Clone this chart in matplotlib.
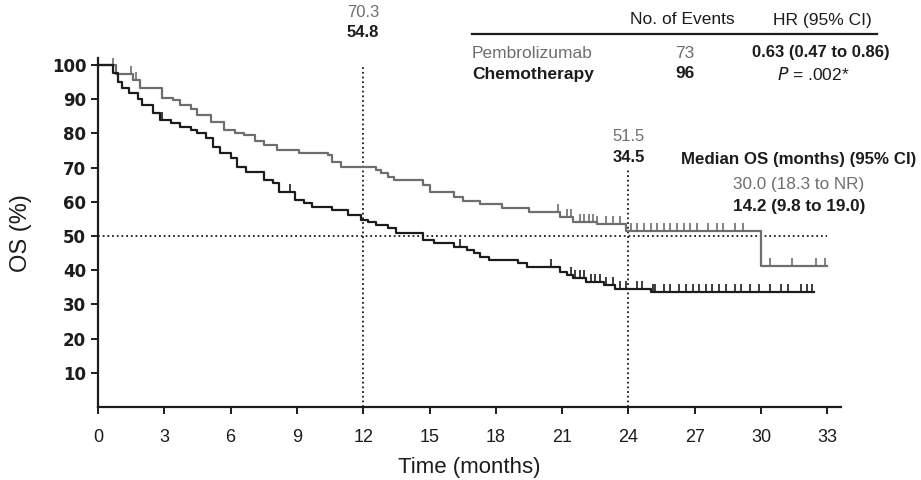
import numpy as np
import matplotlib
matplotlib.use("Agg")
import matplotlib.pyplot as plt

plt.rcParams["font.family"] = ["Liberation Sans", "DejaVu Sans"]

# Kaplan-Meier step data (months, OS %)
pembro_t = [0, 0.8, 1.6, 1.9, 2.9, 3.4, 3.7, 4.2, 4.5, 5.1, 5.7, 6.2, 6.6, 7.1, 7.5, 8.1,
            9.1, 10.4, 10.6, 11.0, 12.6, 12.8, 13.1, 13.4, 14.7, 15.0, 16.1, 16.5, 17.3,
            18.3, 19.5, 20.9, 21.5, 22.6, 23.9, 30.0]
pembro_s = [100, 97.5, 95.6, 93.3, 90.5, 89.8, 88.3, 87.0, 85.4, 83.3, 81.0, 80.2, 79.5,
            77.8, 76.6, 75.1, 74.3, 73.7, 71.6, 70.3, 69.2, 68.4, 67.3, 66.4, 64.9, 62.8,
            61.4, 60.2, 59.3, 58.2, 56.9, 55.6, 54.1, 53.5, 51.5, 41.3]
pembro_end = 33.0
pembro_cens = [0.7, 1.5, 1.7, 20.8, 21.2, 21.4, 21.8, 22.0, 22.2, 22.4, 22.6, 23.0, 23.3,
               23.6, 24.1, 24.4, 24.7, 25.0, 25.3, 25.6, 25.9, 26.2, 26.5, 26.8, 27.1,
               27.6, 28.0, 28.3, 28.8, 29.2, 30.4, 31.4, 32.5, 32.9]

chemo_t = [0, 0.7, 0.9, 1.1, 1.4, 1.8, 2.0, 2.5, 2.8, 3.3, 3.7, 4.2, 4.5, 4.9, 5.2, 5.5,
           6.0, 6.3, 6.7, 7.5, 7.9, 8.2, 8.9, 9.3, 9.7, 10.6, 11.3, 11.9, 12.2, 12.6, 13.1,
           13.5, 14.7, 15.2, 16.1, 16.7, 17.0, 17.3, 17.7, 19.0, 19.4, 20.9, 21.2, 21.5,
           22.1, 22.9, 23.4, 25.0]
chemo_s = [100, 97.7, 95.0, 93.3, 91.8, 90.0, 88.3, 86.0, 83.9, 83.0, 81.9, 81.0, 80.1,
           78.6, 76.0, 74.3, 72.8, 70.2, 68.7, 66.4, 65.5, 63.0, 60.5, 59.6, 58.5, 57.6,
           56.1, 54.8, 54.1, 53.2, 52.3, 50.9, 48.8, 48.0, 46.8, 45.9, 45.0, 43.9, 43.0,
           42.1, 40.9, 39.5, 38.6, 37.7, 36.5, 35.7, 34.5, 33.5]
chemo_end = 32.4
chemo_cens = [2.9, 8.7, 16.4, 20.5, 21.4, 21.6, 21.8, 22.0, 22.3, 22.5, 22.7, 23.0, 23.3,
              23.6, 23.9, 24.4, 24.6, 25.1, 25.2, 25.6, 25.9, 26.3, 26.6, 26.9, 27.2,
              27.5, 27.8, 28.1, 28.4, 28.8, 29.1, 29.5, 29.9, 30.4, 30.9, 31.2, 31.8,
              32.1, 32.3]

x_ticks = list(range(0, 34, 3))
y_ticks = list(range(10, 101, 10))

GRAY = "#6e6e6e"
BLACK = "#1c1c1c"


def km_curve(ax, t, s, t_end, cens, color):
    tt = list(t) + [t_end]
    ss = list(s) + [s[-1]]
    ax.step(tt, ss, where="post", color=color, lw=1.6, zorder=3)
    idx = np.searchsorted(t, cens, side="right") - 1
    ax.plot(cens, np.array(s)[idx], ls="none", marker=2, ms=6, mew=1.2,
            color=color, zorder=3)


fig = plt.figure(figsize=(9.21, 4.8), dpi=100)
ax = fig.add_axes([98 / 921, 73 / 480, 742.6 / 921, 348.8 / 480])

km_curve(ax, pembro_t, pembro_s, pembro_end, pembro_cens, GRAY)
km_curve(ax, chemo_t, chemo_s, chemo_end, chemo_cens, BLACK)

# reference lines
dots = (0, (1, 1.6))
ax.plot([0, 33], [50, 50], color=BLACK, lw=1.3, ls=dots, zorder=2)
ax.plot([12, 12], [0, 100], color=BLACK, lw=1.3, ls=dots, zorder=2)
ax.plot([24, 24], [0, 70], color=BLACK, lw=1.3, ls=dots, zorder=2)

ax.set_xlim(0, 33.6)
ax.set_ylim(0, 102)
ax.set_xticks(x_ticks)
ax.set_yticks(y_ticks)
ax.spines[["top", "right"]].set_visible(False)
for sp in ("left", "bottom"):
    ax.spines[sp].set_linewidth(1.6)
    ax.spines[sp].set_color(BLACK)
ax.tick_params(direction="out", length=5, width=1.4, color=BLACK)
ax.tick_params(axis="x", pad=11)
for lab in ax.get_yticklabels():
    lab.set_family("DejaVu Sans")
    lab.set_fontweight("bold")
    lab.set_fontsize(12)
    lab.set_color(BLACK)
for lab in ax.get_xticklabels():
    lab.set_fontsize(13)
    lab.set_color(BLACK)

ax.set_xlabel("Time (months)", fontsize=16, color=BLACK, labelpad=8)
ax.set_ylabel("OS (%)", fontsize=17, color=BLACK, labelpad=14)

# landmark values
ax.text(12, 115.5, "70.3", ha="center", va="center", fontsize=12, color=GRAY, clip_on=False)
ax.text(12, 109.4, "54.8", ha="center", va="center", fontsize=12, color=BLACK,
        fontweight="bold", clip_on=False)
ax.text(24, 79.2, "51.5", ha="center", va="center", fontsize=12, color=GRAY, clip_on=False)
ax.text(24, 73.1, "34.5", ha="center", va="center", fontsize=12, color=BLACK,
        fontweight="bold", clip_on=False)


# table at top right (figure pixel positions)
def ftxt(x, y, s, size=12.5, **kw):
    fig.text(x / 921, 1 - y / 480, s, va="center", fontsize=size, **kw)


ftxt(682, 20, "No. of Events", ha="center", color=BLACK)
ftxt(822, 20, "HR (95% CI)", ha="center", color=BLACK)
fig.add_artist(plt.Line2D([472 / 921, 877 / 921], [1 - 34 / 480, 1 - 34 / 480],
                          color=BLACK, lw=1.6))
ftxt(472, 53, "Pembrolizumab", ha="left", color=GRAY)
ftxt(685, 53, "73", ha="center", color=GRAY)
ftxt(821, 53, "0.63 (0.47 to 0.86)", size=12, ha="center", color=BLACK, fontweight="bold")
ftxt(472, 74, "Chemotherapy", ha="left", color=BLACK, fontweight="bold")
ftxt(685, 74, "96", ha="center", color=BLACK, fontweight="bold")
ftxt(813, 74, r"$\it{P}$ = .002*", ha="center", color=BLACK)

ftxt(681, 160, "Median OS (months) (95% CI)", size=12.2, ha="left", color=BLACK,
     fontweight="bold")
ftxt(733, 184, "30.0 (18.3 to NR)", size=12.3, ha="left", color=GRAY)
ftxt(733, 207, "14.2 (9.8 to 19.0)", size=12.3, ha="left", color=BLACK, fontweight="bold")

fig.savefig("out.png", dpi=100)
